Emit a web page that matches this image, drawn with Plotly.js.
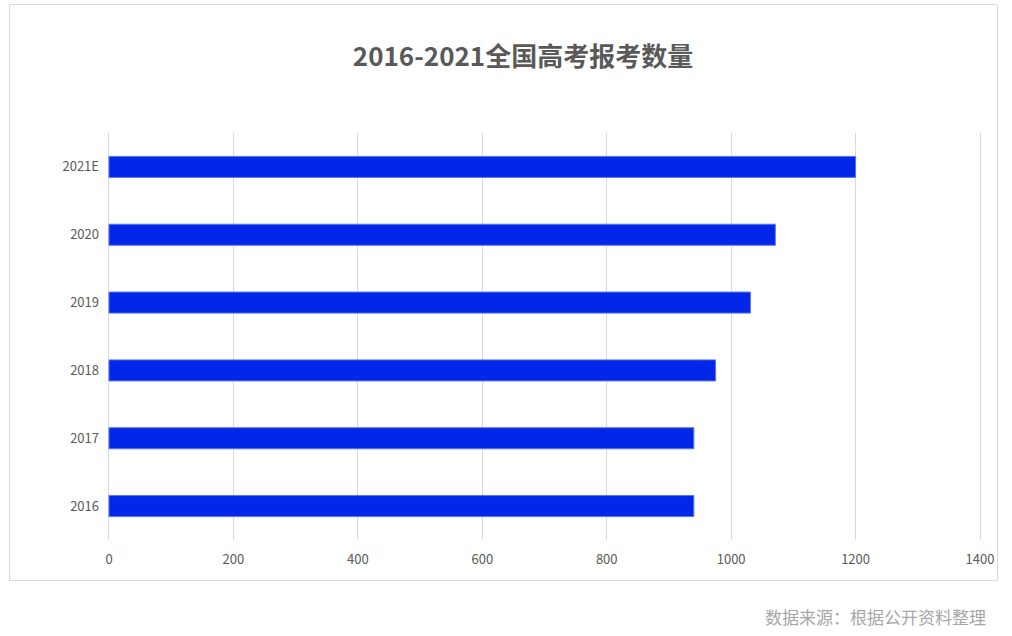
<!DOCTYPE html>
<html><head><meta charset="utf-8">
<script src="https://cdn.plot.ly/plotly-3.0.1.min.js"></script>
<style>html,body{margin:0;padding:0;background:#fff}#chart{width:1012px;height:636px}</style>
</head><body><div id="chart"></div>
<script>
const years = ['2016', '2017', '2018', '2019', '2020', '2021E'];
const applicants = [940, 940, 975, 1031, 1071, 1200];
const titleText = '2016-2021全国高考报考数量';
const sourceText = '数据来源：根据公开资料整理';
const xTicks = [0, 200, 400, 600, 800, 1000, 1200, 1400];

const font = '"Noto Sans CJK SC", "Noto Sans", sans-serif';
const L = 107, R = 30, T = 133, B = 96;
const PW = 1012 - L - R, PH = 636 - T - B;
const px = v => (v - L) / PW;
const py = v => (636 - B - v) / PH;

const trace = {
  type: 'bar', orientation: 'h',
  y: years, x: applicants,
  width: 0.31,
  marker: {color: '#0327E8', line: {color: '#5a73ee', width: 1}},
  hoverinfo: 'x+y'
};
const layout = {
  width: 1012, height: 636,
  margin: {l: L, r: R, t: T, b: B},
  paper_bgcolor: '#fff', plot_bgcolor: '#fff',
  showlegend: false,
  font: {family: font, color: '#595959', size: 13},
  title: {text: titleText, font: {family: font, size: 26, color: '#595959', weight: 'bold'},
          x: 523/1012, xref: 'container', xanchor: 'center', y: 1 - 57/636, yref: 'container', yanchor: 'middle'},
  xaxis: {range: [-3.2, 1403.2], tickvals: xTicks, showgrid: true, gridcolor: '#d9d9d9', gridwidth: 1,
          zeroline: false, showline: false, ticks: '', ticklabelstandoff: 10, fixedrange: true,
          tickfont: {size: 13, color: '#595959'}},
  yaxis: {type: 'category', categoryorder: 'array', categoryarray: years, showgrid: false, zeroline: false,
          showline: false, ticks: '', ticklabelstandoff: 7, tickfont: {size: 13, color: '#595959'}},
  shapes: [{type: 'rect', xref: 'paper', yref: 'paper',
            x0: px(9.5), x1: px(997.5), y0: py(580.5), y1: py(4.5),
            line: {color: '#d9d9d9', width: 1}, fillcolor: 'rgba(0,0,0,0)', layer: 'below'}],
  annotations: [{text: sourceText, xref: 'paper', yref: 'paper', x: px(988), y: py(616),
                 xanchor: 'right', yanchor: 'middle', showarrow: false,
                 font: {family: font, size: 17, color: '#a6a6a6'}}]
};
Plotly.newPlot('chart', [trace], layout, {displayModeBar: false, staticPlot: true});
</script></body></html>
